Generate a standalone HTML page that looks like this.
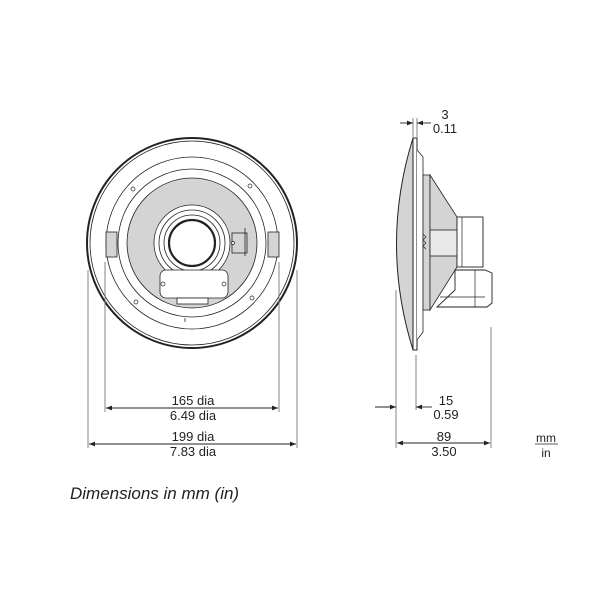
<!DOCTYPE html>
<html><head><meta charset="utf-8"><style>
html,body{margin:0;padding:0;background:#fff;width:600px;height:600px;overflow:hidden}
svg text{font-family:"Liberation Sans",sans-serif;fill:#222}
</style></head><body>
<svg width="600" height="600" viewBox="0 0 600 600">
<defs>
<marker id="a" viewBox="0 0 10 10" refX="10" refY="5" markerWidth="10" markerHeight="6" orient="auto-start-reverse" markerUnits="userSpaceOnUse"><path d="M0,1 L10,5 L0,9 z" fill="#222"/></marker>
</defs>
<g stroke="#222" fill="none">
<!-- front view -->
<circle cx="192" cy="243" r="105" stroke-width="2"/>
<circle cx="192" cy="243" r="102" stroke-width="0.8"/>
<circle cx="192" cy="243" r="86" stroke-width="0.8"/>
<circle cx="192" cy="243" r="74" stroke-width="0.8"/>
<circle cx="192" cy="243" r="65" fill="#d4d4d4" stroke-width="0.8"/>
<circle cx="192" cy="243" r="38" fill="#fff" stroke-width="0.8"/>
<circle cx="192" cy="243" r="33" stroke-width="0.8"/>
<circle cx="192" cy="243" r="28" stroke-width="0.8"/>
<circle cx="192" cy="243" r="23" stroke-width="2.2"/>
<rect x="160" y="270" width="68" height="28" rx="6" fill="#fff" stroke-width="0.8"/>
<rect x="177" y="298" width="31" height="6" fill="#fff" stroke-width="0.8"/>
<rect x="106" y="232" width="11" height="25" fill="#d4d4d4" stroke-width="0.8"/>
<rect x="268" y="232" width="11" height="25" fill="#d4d4d4" stroke-width="0.8"/>
<rect x="232" y="233" width="15" height="20" fill="#d4d4d4" stroke-width="0.8"/>
<line x1="245" y1="228" x2="245" y2="256" stroke-width="0.8"/>
<g stroke-width="0.7" fill="#fff">
<circle cx="133" cy="189" r="2"/><circle cx="250" cy="186" r="2"/>
<circle cx="136" cy="302" r="2"/><circle cx="252" cy="298" r="2"/>
<circle cx="163" cy="284" r="2"/><circle cx="224" cy="284" r="2"/><circle cx="233" cy="243" r="1.5"/>
</g>
<line x1="185" y1="318" x2="185" y2="322" stroke-width="0.8"/>
<!-- front dims -->
<g stroke="#777" stroke-width="0.9">
<line x1="105" y1="262" x2="105" y2="412"/><line x1="279" y1="262" x2="279" y2="412"/>
<line x1="88" y1="270" x2="88" y2="448"/><line x1="297" y1="270" x2="297" y2="448"/>
</g>
<line x1="106" y1="408" x2="278" y2="408" stroke-width="0.9" marker-start="url(#a)" marker-end="url(#a)"/>
<line x1="89" y1="444" x2="296" y2="444" stroke-width="0.9" marker-start="url(#a)" marker-end="url(#a)"/>
<!-- side view -->
<path d="M413,138 Q380,244 413,350 Z" fill="#d4d4d4" stroke-width="1"/>
<rect x="413" y="138" width="4" height="212" fill="#fff" stroke-width="1"/>
<path d="M417,150 L423,157 L423,332 L417,340" fill="#fff" stroke-width="0.8"/>
<rect x="423" y="175" width="7" height="135" fill="#d4d4d4" stroke-width="0.8"/>
<path d="M430,175 L457,217 L457,267 L430,310 Z" fill="#d4d4d4" stroke-width="0.8"/>
<rect x="430" y="230" width="35" height="26" fill="#e8e8e8" stroke-width="0.8"/>
<path d="M423,234 l3,3 l-3,3 l3,3 l-3,3 l3,3" stroke-width="0.7"/>
<rect x="457" y="217" width="26" height="50" fill="#fff" stroke-width="0.9"/>
<line x1="462" y1="217" x2="462" y2="267" stroke-width="0.7"/>
<path d="M455,270 L485,270 L492,273 L492,303 L487,307 L437,307 L455,290 Z" fill="#fff" stroke-width="0.9"/>
<line x1="475" y1="270" x2="475" y2="307" stroke-width="0.7"/>
<line x1="440" y1="297" x2="485" y2="297" stroke-width="0.7"/>
<!-- side dims -->
<g stroke="#777" stroke-width="0.9">
<line x1="396" y1="290" x2="396" y2="448"/><line x1="416" y1="355" x2="416" y2="410"/>
<line x1="491" y1="327" x2="491" y2="448"/>
<line x1="413" y1="118" x2="413" y2="137"/><line x1="417" y1="118" x2="417" y2="137"/>
</g>
<line x1="400" y1="123" x2="413" y2="123" stroke-width="0.9" marker-end="url(#a)"/>
<line x1="431" y1="123" x2="417" y2="123" stroke-width="0.9" marker-end="url(#a)"/>
<line x1="375" y1="407" x2="396" y2="407" stroke-width="0.9" marker-end="url(#a)"/>
<line x1="432" y1="407" x2="416" y2="407" stroke-width="0.9" marker-end="url(#a)"/>
<line x1="397" y1="443" x2="490" y2="443" stroke-width="0.9" marker-start="url(#a)" marker-end="url(#a)"/>
<line x1="535" y1="444" x2="558" y2="444" stroke-width="0.8"/>
</g>
<g font-size="13" text-anchor="middle">
<text x="193" y="405">165 dia</text><text x="193" y="420">6.49 dia</text>
<text x="193" y="441">199 dia</text><text x="193" y="456">7.83 dia</text>
<text x="445" y="119">3</text><text x="445" y="133">0.11</text>
<text x="446" y="405">15</text><text x="446" y="419">0.59</text>
<text x="444" y="441">89</text><text x="444" y="456">3.50</text>
<text x="546" y="442" font-size="12">mm</text><text x="546" y="457" font-size="12">in</text>
</g>
<text x="70" y="499" font-size="17" font-style="italic" fill="#333">Dimensions in mm (in)</text>
</svg>
</body></html>
